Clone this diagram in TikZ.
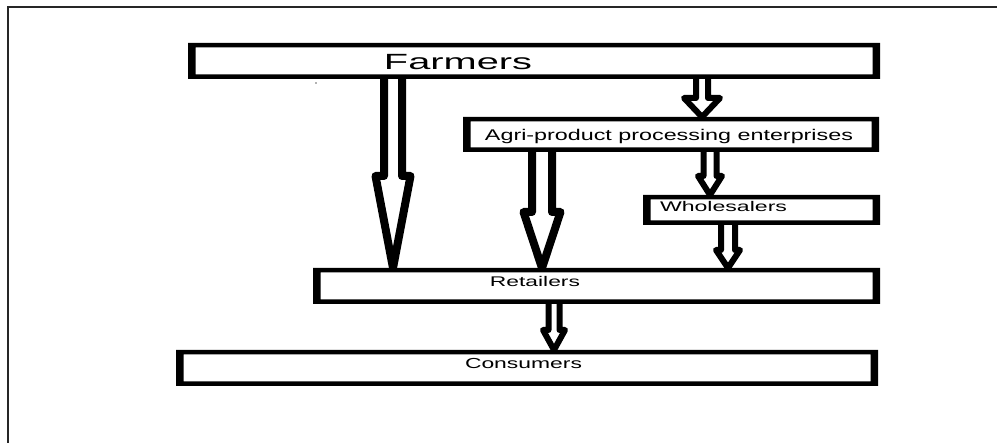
\documentclass[tikz,border=0pt]{standalone}
\usepackage{graphicx}
\usepackage{fontspec}
\setmainfont{Liberation Sans}
\usetikzlibrary{calc}
\tikzset{
  boxnode/.style={draw=none, inner sep=0pt, outer sep=0pt},
  lbl/.style={anchor=base, inner sep=0pt, text=black},
  hollow/.style={draw=black, fill=white, line join=round, line cap=butt}
}
% thick frame of a box node: thick left/right sides, thinner top/bottom
\newcommand\myboxfrm[1]{\fill[black,even odd rule] (#1.north west) rectangle (#1.south east) ([shift={(7.5,4.5)}]#1.north west) rectangle ([shift={(-7.5,-4.5)}]#1.south east);}
% hollow block arrow: #1 x-coordinate name, #2 from node, #3 to node,
% #4 shaft outer half width, #5 head outer half width, #6 head outer length, #7 line width
\newcommand\myblockarr[7]{%
  \coordinate (as) at (#1 |- #2.south);
  \coordinate (ae) at (#1 |- #3.north);
  \draw[hollow, line width=#7pt]
   ($(as)+({-(#4-#7/2)},0)$) --
   ($(ae)+({-(#4-#7/2)},{-(#6-#7/2)})$) --
   ($(ae)+({-(#5-#7/2)},{-(#6-#7/2)})$) --
   (ae) --
   ($(ae)+({(#5-#7/2)},{-(#6-#7/2)})$) --
   ($(ae)+({(#4-#7/2)},{-(#6-#7/2)})$) --
   ($(as)+({(#4-#7/2)},0)$);
}
\newcommand\mystretchtxt[3]{\resizebox{#1pt}{\height}{\fontsize{#2}{#2}\selectfont #3}}
\begin{document}
\begin{tikzpicture}[x=1pt,y=-1pt]
\useasboundingbox (0,0) rectangle (997,443);
% outer frame (top and left edges visible)
\draw[line width=2pt, black!85] (8,443) -- (8,7) -- (997,7);
% boxes
\node[boxnode, minimum width=692pt, minimum height=36pt] (farm) at (534,61) {};
\node[boxnode, minimum width=416pt, minimum height=35pt] (agri) at (671,134.5) {};
\node[boxnode, minimum width=237pt, minimum height=30pt] (whole) at (761.5,210) {};
\node[boxnode, minimum width=567pt, minimum height=36pt] (ret) at (596.5,286) {};
\node[boxnode, minimum width=702pt, minimum height=36pt] (cons) at (527,368) {};
% arrow x positions
\coordinate (x1) at (393,0);
\coordinate (x2) at (542,0);
\coordinate (x3) at (702,0);
\coordinate (x4) at (710,0);
\coordinate (x5) at (728,0);
\coordinate (x6) at (554,0);
% arrows
\myblockarr{x1}{farm}{ret}{13}{21.5}{96}{8}
\myblockarr{x2}{agri}{ret}{14}{22.5}{60}{8}
\myblockarr{x3}{farm}{agri}{9}{21}{22}{6}
\myblockarr{x4}{agri}{whole}{9.5}{15}{22}{6}
\myblockarr{x5}{whole}{ret}{10}{15}{21}{6}
\myblockarr{x6}{ret}{cons}{8.5}{14}{23}{6}
% frames
\myboxfrm{farm}
\myboxfrm{agri}
\myboxfrm{whole}
\myboxfrm{ret}
\myboxfrm{cons}
% labels
\node[lbl] (tfarm) at (458,70) {\mystretchtxt{148}{22}{Farmers}};
\node[lbl] (tagri) at (669,141) {\mystretchtxt{368}{15.5}{Agri-product processing enterprises}};
\node[lbl] (twhole) at (723.5,212) {\mystretchtxt{127}{14}{Wholesalers}};
\node[lbl] (tret) at (535,287) {\mystretchtxt{90}{14}{Retailers}};
\node[lbl] (tcons) at (523.5,369) {\mystretchtxt{117}{14.5}{Consumers}};
% small speck below the Farmers box
\fill[black!60] (316,83) circle (0.8);
\end{tikzpicture}
\end{document}
